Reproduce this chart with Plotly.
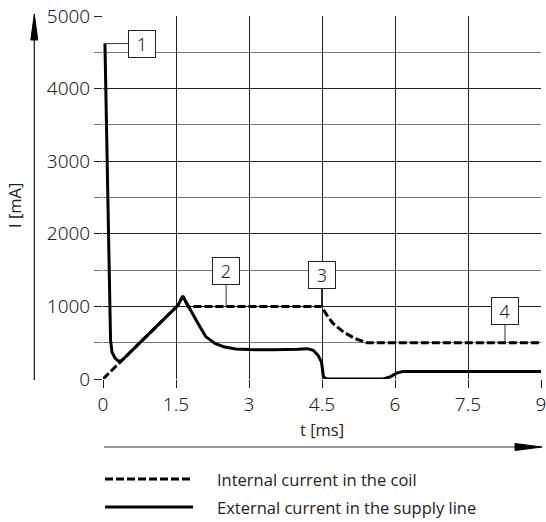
import plotly.graph_objects as go

# ---------------- data ----------------
t_external = [0.04, 0.08, 0.13, 0.14, 0.155, 0.185, 0.25, 0.31, 0.37, 0.5, 1.0, 1.54, 1.64, 1.75,
              1.95, 2.11, 2.3, 2.5, 2.73, 3.0, 3.5, 4.0, 4.2, 4.32, 4.42, 4.49, 4.53, 4.6,
              5.76, 5.9, 6.04, 6.17, 6.4, 9.0]
i_external = [4620, 3000, 1000, 600, 535, 368, 286, 250, 248, 329, 658, 1015, 1139, 1000,
              767, 584, 490, 440, 412, 405, 402, 410, 418, 395, 326, 234, 28, 0,
              0, 30, 83, 105, 105, 105]

t_internal = [0, 0.5, 1.0, 1.54, 1.64, 1.75, 4.49, 4.6, 4.73, 4.94, 5.18, 5.42, 9.0]
i_internal = [0, 329, 658, 1015, 1139, 1000, 1000, 880, 763, 648, 556, 501, 500]

x_ticks = [0, 1.5, 3, 4.5, 6, 7.5, 9]
x_tick_labels = ["0", "1.5", "3", "4.5", "6", "7.5", "9"]
y_ticks = [0, 1000, 2000, 3000, 4000, 5000]
y_tick_labels = ["0", "1000", "2000", "3000", "4000", "5000"]

marker_labels = ["1", "2", "3", "4"]
marker_t = [0.04, 2.53, 4.49, 8.26]
marker_i = [4620, 1000, 1000, 500]

legend_names = ["Internal current in the coil", "External current in the supply line"]

# ---------------- layout geometry ----------------
W, H = 546, 522
ML, MR, MT, MB = 103, 5, 16, 143
PW, PH = W - ML - MR, H - MT - MB


def px(xp):
    return (xp - ML) / PW


def py(yp):
    return (H - MB - yp) / PH


fig = go.Figure()
fig.add_trace(go.Scatter(x=t_internal, y=i_internal, mode="lines",
                         line=dict(color="#000", width=3, dash="8px,3px"),
                         name=legend_names[0], showlegend=False, cliponaxis=False))
fig.add_trace(go.Scatter(x=t_external, y=i_external, mode="lines",
                         line=dict(color="#000", width=3),
                         name=legend_names[1], showlegend=False, cliponaxis=False))

tick_font = dict(family="Noto Sans", size=19, color="#222", weight=300)
text_font = dict(family="Open Sans", size=16.5, color="#222")

fig.update_xaxes(range=[0, 9], tickvals=x_ticks, ticktext=x_tick_labels,
                 showgrid=True, gridcolor="#222", gridwidth=1,
                 ticks="outside", ticklen=8, tickcolor="#222", tickwidth=1,
                 tickfont=tick_font, zeroline=False, showline=False, automargin=False,
                 ticklabeloverflow="allow")
fig.update_yaxes(range=[0, 5000], tickvals=y_ticks, ticktext=y_tick_labels,
                 showgrid=True, gridcolor="#222", gridwidth=1,
                 ticks="outside", ticklen=8, tickcolor="#222", tickwidth=1,
                 tickfont=tick_font, zeroline=False, showline=False, automargin=False,
                 ticklabeloverflow="allow",
                 minor=dict(dtick=500, tick0=0, showgrid=True, gridcolor="#777",
                            gridwidth=1, ticks="outside", ticklen=8, tickcolor="#777"))

annotations = []
offsets = [(37, 0), (0, -35), (0, -31), (0, -32)]
for lab, tx, iy, (ox, oy) in zip(marker_labels, marker_t, marker_i, offsets):
    annotations.append(dict(x=tx, y=iy, xref="x", yref="y", text=lab,
                            showarrow=True, arrowhead=0, arrowwidth=1, arrowcolor="#333",
                            ax=ox, ay=oy, axref="pixel", ayref="pixel",
                            font=dict(family="Noto Sans", size=18, color="#222", weight=300),
                            bgcolor="white", bordercolor="#222", borderwidth=1,
                            borderpad=2, width=22, height=22, align="center"))

annotations.append(dict(x=px(322), y=py(429), xref="paper", yref="paper", text="t [ms]",
                        showarrow=False, font=text_font, xanchor="center", yanchor="middle"))
annotations.append(dict(x=px(15), y=py(206), xref="paper", yref="paper", text="I [mA]",
                        showarrow=False, font=text_font, textangle=-90,
                        xanchor="center", yanchor="middle"))
annotations.append(dict(x=px(215), y=py(479), xref="paper", yref="paper", text=legend_names[0],
                        showarrow=False, font=text_font, xanchor="left", yanchor="middle"))
annotations.append(dict(x=px(215), y=py(507), xref="paper", yref="paper", text=legend_names[1],
                        showarrow=False, font=text_font, xanchor="left", yanchor="middle"))

shapes = []
# horizontal axis arrow
shapes.append(dict(type="line", xref="paper", yref="paper", x0=px(104), x1=px(520),
                   y0=py(447), y1=py(447), line=dict(color="#777", width=1.5)))
shapes.append(dict(type="path", xref="paper", yref="paper",
                   path=f"M {px(515)} {py(443.5)} L {px(542)} {py(447)} L {px(515)} {py(450.5)} Z",
                   fillcolor="#000", line=dict(color="#000", width=1)))
# vertical axis arrow
shapes.append(dict(type="line", xref="paper", yref="paper", x0=px(34.3), x1=px(34.3),
                   y0=py(380), y1=py(36), line=dict(color="#111", width=1.2)))
shapes.append(dict(type="path", xref="paper", yref="paper",
                   path=f"M {px(30.8)} {py(40)} L {px(34.3)} {py(14)} L {px(37.8)} {py(40)} Z",
                   fillcolor="#000", line=dict(color="#000", width=1)))
# legend samples
shapes.append(dict(type="line", xref="paper", yref="paper", x0=px(105), x1=px(193),
                   y0=py(479), y1=py(479), line=dict(color="#000", width=3, dash="8px,3px")))
shapes.append(dict(type="line", xref="paper", yref="paper", x0=px(105), x1=px(193),
                   y0=py(507), y1=py(507), line=dict(color="#000", width=3)))

fig.update_layout(width=W, height=H, margin=dict(l=ML, r=MR, t=MT, b=MB, autoexpand=False),
                  plot_bgcolor="white", paper_bgcolor="white",
                  annotations=annotations, shapes=shapes, showlegend=False)

fig.write_html("out.html", config={"displayModeBar": False},
               post_script="document.body.style.margin='0';document.body.style.overflow='hidden';")
